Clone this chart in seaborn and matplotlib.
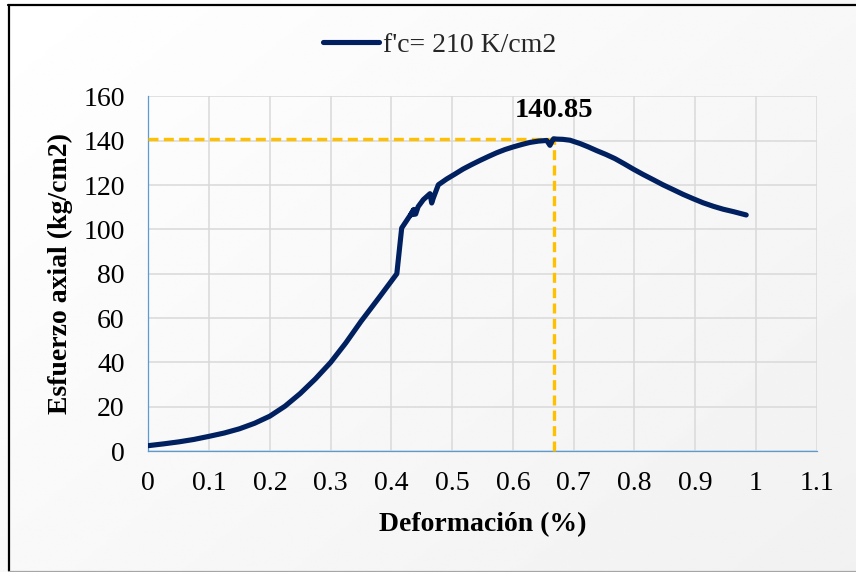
import numpy as np
import pandas as pd
import matplotlib
matplotlib.use("Agg")
import matplotlib.pyplot as plt
from matplotlib.lines import Line2D
import seaborn as sns

# Stress-strain curve for f'c = 210 kg/cm2 concrete specimen
deformacion = [0.000, 0.025, 0.050, 0.075, 0.100, 0.125, 0.150, 0.175, 0.200,
               0.225, 0.250, 0.275, 0.300, 0.325, 0.350, 0.381, 0.409,
               0.417, 0.4335, 0.437, 0.432, 0.440, 0.444, 0.4526,
               0.4636, 0.4664, 0.469, 0.4773, 0.491, 0.505, 0.518, 0.532,
               0.546, 0.560, 0.573, 0.587, 0.6008, 0.615, 0.628, 0.642,
               0.6557, 0.661, 0.6645, 0.667, 0.672, 0.682, 0.694,
               0.7105, 0.724, 0.738, 0.753, 0.768, 0.783, 0.798, 0.814,
               0.831, 0.847, 0.864, 0.880, 0.897, 0.913, 0.930, 0.946,
               0.963, 0.984]
esfuerzo = [2.5, 3.3, 4.2, 5.3, 6.7, 8.2, 10.1, 12.6, 15.8,
            20.3, 26.0, 32.6, 40.0, 48.8, 58.5, 69.7, 80.0,
            100.6, 107.4, 109.0, 106.6, 106.9, 110.2, 113.4,
            116.1, 111.9, 114.1, 120.1, 122.7, 125.0, 127.2, 129.2,
            131.1, 132.9, 134.5, 136.0, 137.2, 138.3, 139.2, 139.8,
            140.1, 137.9, 139.8, 140.85, 140.7, 140.6, 140.2,
            138.7, 137.2, 135.5, 133.8, 131.9, 129.6, 127.2, 124.8,
            122.4, 120.1, 117.9, 115.8, 113.8, 112.0, 110.4, 109.1,
            108.0, 106.5]
serie = "f'c= 210 K/cm2"

# Peak stress and the strain at which it occurs
pico_x = [0.667]
pico_y = [140.85]

x_ticks = [0, 0.1, 0.2, 0.3, 0.4, 0.5, 0.6, 0.7, 0.8, 0.9, 1, 1.1]
x_tick_labels = ["0", "0.1", "0.2", "0.3", "0.4", "0.5", "0.6", "0.7", "0.8", "0.9", "1", "1.1"]
y_ticks = [0, 20, 40, 60, 80, 100, 120, 140, 160]

df = pd.DataFrame({"Deformación": deformacion, "Esfuerzo": esfuerzo})

sns.set_theme(style="whitegrid")
plt.rcParams["font.family"] = ["Liberation Serif", "DejaVu Serif"]
plt.rcParams["mathtext.default"] = "regular"

W, H = 856, 572
fig = plt.figure(figsize=(W / 100, H / 100), dpi=100)
fig.patch.set_facecolor("white")

# Soft diagonal shading behind the chart
bg = fig.add_axes([0, 0, 1, 1], zorder=-10)
gx, gy = np.meshgrid(np.linspace(0, 1, 200), np.linspace(0, 1, 200))
t = np.clip(0.55 * gx + 0.45 * gy, 0, 1)
shade = 1.0 - 0.055 * t
bg.imshow(shade, cmap="gray", vmin=0, vmax=1, extent=[0, 1, 0, 1],
          aspect="auto", origin="upper", interpolation="bilinear")
bg.set_axis_off()

# Chart frame
px = lambda v: v / W
py = lambda v: 1 - v / H
fig.add_artist(Line2D([px(8.5), px(8.5)], [py(5), py(571)], color="black", lw=1.6))
fig.add_artist(Line2D([px(8), px(856)], [py(5), py(5)], color="black", lw=1.6))
fig.add_artist(Line2D([px(8), px(856)], [py(570.5), py(570.5)], color="#a6a6a6", lw=0.9))

ax = fig.add_axes([148.3 / W, (H - 451.2) / H, (816.7 - 148.3) / W, (451.2 - 96.3) / H])
ax.set_facecolor("none")

amarillo = "#FFC000"
azul = "#002060"

# Dashed guides to the peak
ax.plot([0, pico_x[0]], [pico_y[0], pico_y[0]], color=amarillo, lw=2.4,
        dashes=(3, 1.6), zorder=3, clip_on=False)
ax.plot([pico_x[0], pico_x[0]], [0, pico_y[0]], color=amarillo, lw=2.4,
        dashes=(3, 1.6), zorder=3, clip_on=False)

sns.lineplot(data=df, x="Deformación", y="Esfuerzo", sort=False, estimator=None,
             color=azul, linewidth=3.7, ax=ax, zorder=4, legend=False)
for ln in ax.get_lines():
    if ln.get_color() == azul:
        ln.set_solid_capstyle("round")
        ln.set_solid_joinstyle("round")

ax.annotate(f"{pico_y[0]:.2f}", xy=(pico_x[0], pico_y[0]), xytext=(0, 16),
            textcoords="offset points", ha="center", va="baseline",
            fontsize=20.5, fontweight="bold", color="black")

ax.set_xlim(0, 1.1)
ax.set_ylim(0, 160)
ax.set_xticks(x_ticks)
ax.set_xticklabels(x_tick_labels)
ax.set_yticks(y_ticks)

ax.grid(True, color="#d9d9d9", linewidth=1.1)
ax.set_axisbelow(True)
for s in ["top", "right"]:
    ax.spines[s].set_visible(False)
for s in ["left", "bottom"]:
    ax.spines[s].set_visible(True)
    ax.spines[s].set_color("#5b9bd5")
    ax.spines[s].set_linewidth(0.9)
ax.tick_params(axis="both", which="major", direction="out", length=6, width=0.9,
               color="#5b9bd5", labelsize=20, labelcolor="black")
ax.tick_params(axis="y", pad=11)
ax.tick_params(axis="x", pad=8)

ax.set_xlabel("Deformación (%)", fontsize=20, fontweight="bold", color="black")
ax.set_ylabel("Esfuerzo axial (kg/cm2)", fontsize=20, fontweight="bold", color="black")
ax.xaxis.set_label_coords(0.5, -0.208)
ax.xaxis.label.set_verticalalignment("center")
ax.yaxis.set_label_coords(-0.131, 0.5)
ax.yaxis.label.set_verticalalignment("center")

handle = Line2D([], [], color=azul, lw=3.7, solid_capstyle="round")
fig.legend([handle], [serie], loc="center", bbox_to_anchor=(0.514, 0.921),
           frameon=False, fontsize=20, handlelength=2.0, handletextpad=0.15,
           borderpad=0)

fig.savefig("out.png", dpi=100)
